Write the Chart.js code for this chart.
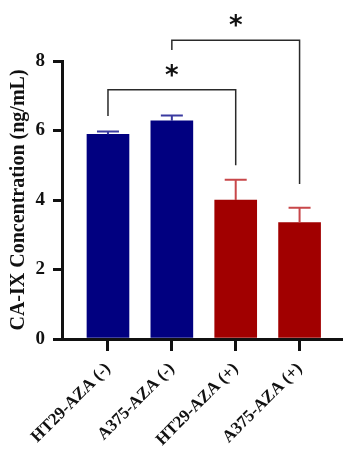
<!DOCTYPE html>
<html lang="en">
<head>
  <meta charset="UTF-8">
  <title>CA-IX Concentration</title>
  <script src="https://cdn.jsdelivr.net/npm/chart.js"></script>
  <style>
    html, body { margin: 0; padding: 0; background: #fff; }
    #wrap { width: 343px; height: 453px; }
  </style>
</head>
<body>
  <div id="wrap"><canvas id="caixChart" width="343" height="453"></canvas></div>

  <script>
    const categories = ['HT29-AZA (-)', 'A375-AZA (-)', 'HT29-AZA (+)', 'A375-AZA (+)'];
    const means = [5.89, 6.28, 4.0, 3.35];
    const errors = [0.08, 0.15, 0.58, 0.43];
    const barColors = ['#010080', '#010080', '#a10000', '#a10000'];
    const errColors = ['#3a3aa0', '#3a3aa0', '#c8474a', '#c8474a'];
    const yTicks = [0, 2, 4, 6, 8];

    // significance brackets: [from, to, top, leftLegEnd, rightLegEnd, starLevel]
    const bracketFrom = [0, 1];
    const bracketTo = [2, 3];
    const bracketTop = [7.17, 8.6];
    const bracketLeftEnd = [6.42, 8.32];
    const bracketRightEnd = [5.0, 4.46];
    const starLevel = [7.74, 9.18];

    const serif = '"Liberation Serif", "Times New Roman", serif';

    const errorBars = {
      id: 'errorBars',
      afterDatasetsDraw(chart) {
        const ctx = chart.ctx;
        const meta = chart.getDatasetMeta(0);
        const y = chart.scales.y;
        ctx.save();
        meta.data.forEach((bar, i) => {
          const top = y.getPixelForValue(means[i] + errors[i]);
          const base = y.getPixelForValue(means[i]);
          ctx.strokeStyle = errColors[i];
          ctx.lineWidth = 2;
          ctx.beginPath();
          ctx.moveTo(bar.x, base);
          ctx.lineTo(bar.x, top);
          ctx.moveTo(bar.x - 11, top);
          ctx.lineTo(bar.x + 11, top);
          ctx.stroke();
        });
        ctx.restore();
      }
    };

    const brackets = {
      id: 'brackets',
      afterDraw(chart) {
        const ctx = chart.ctx;
        const x = chart.scales.x;
        const y = chart.scales.y;
        ctx.save();
        ctx.strokeStyle = '#2a2a2a';
        ctx.lineWidth = 1.5;
        for (let i = 0; i < bracketFrom.length; i++) {
          const x1 = x.getPixelForValue(bracketFrom[i]);
          const x2 = x.getPixelForValue(bracketTo[i]);
          const yt = y.getPixelForValue(bracketTop[i]);
          ctx.beginPath();
          ctx.moveTo(x1, y.getPixelForValue(bracketLeftEnd[i]));
          ctx.lineTo(x1, yt);
          ctx.lineTo(x2, yt);
          ctx.lineTo(x2, y.getPixelForValue(bracketRightEnd[i]));
          ctx.stroke();
          ctx.fillStyle = '#111';
          ctx.font = 'bold 26px "DejaVu Sans"';
          ctx.textAlign = 'center';
          ctx.textBaseline = 'alphabetic';
          ctx.fillText('*', (x1 + x2) / 2, y.getPixelForValue(starLevel[i]) + 14);
        }
        ctx.restore();
      }
    };

    new Chart(document.getElementById('caixChart'), {
      type: 'bar',
      data: {
        datasets: [{
          data: means.map((v, i) => ({ x: i, y: v })),
          backgroundColor: barColors,
          borderWidth: 0,
          barThickness: 42
        }]
      },
      options: {
        responsive: false,
        animation: false,
        layout: { padding: { top: 61, right: 0, left: 0, bottom: 0 } },
        plugins: { legend: { display: false }, tooltip: { enabled: false } },
        scales: {
          x: {
            type: 'linear',
            offset: false,
            min: -0.72,
            max: 3.68,
            afterBuildTicks(scale) {
              scale.ticks = scale.ticks.filter(t => Number.isInteger(t.value) && t.value >= 0 && t.value < categories.length);
            },
            afterFit(scale) { scale.height = 114; },
            ticks: {
              stepSize: 1,
              autoSkip: false,
              minRotation: 45,
              maxRotation: 45,
              padding: 8,
              color: '#111',
              font: { family: serif, size: 17, weight: 'bold' },
              callback: (v) => categories[v]
            },
            grid: { offset: false, drawOnChartArea: false, tickLength: 12, lineWidth: 3, color: '#111' },
            border: { display: true, width: 3, color: '#111' }
          },
          y: {
            min: 0,
            max: 8,
            afterBuildTicks(scale) {
              scale.ticks = yTicks.map(v => ({ value: v }));
            },
            afterFit(scale) { scale.width = 62; },
            ticks: {
              padding: 8,
              color: '#111',
              font: { family: serif, size: 19, weight: 'bold' }
            },
            grid: { drawOnChartArea: false, tickLength: 9, lineWidth: 3, color: '#111' },
            border: { display: true, width: 3, color: '#111' },
            title: {
              display: true,
              text: 'CA-IX Concentration (ng/mL)',
              color: '#111',
              padding: { top: 7, bottom: 0 },
              font: { family: serif, size: 20, weight: 'bold' }
            }
          }
        }
      },
      plugins: [errorBars, brackets]
    });
  </script>
</body>
</html>
